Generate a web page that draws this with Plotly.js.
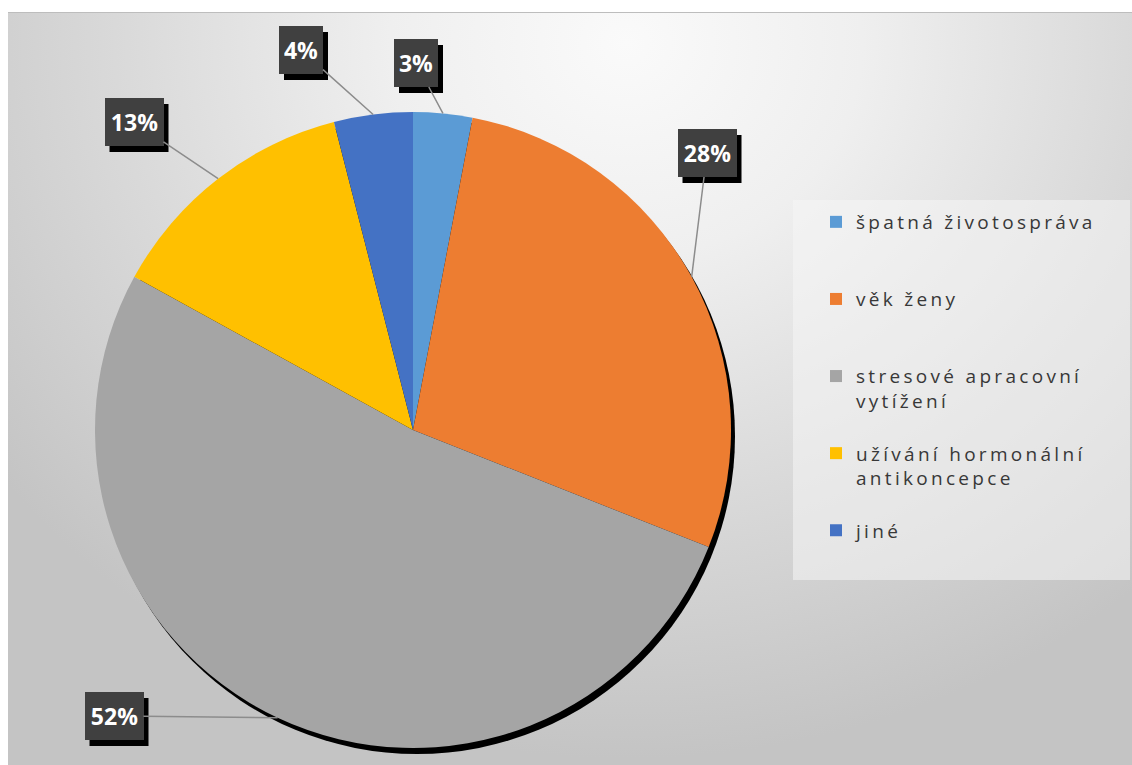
<!DOCTYPE html>
<html>
<head>
<meta charset="utf-8">
<script src="https://cdn.plot.ly/plotly-3.0.1.min.js"></script>
<style>
  html, body { margin:0; padding:0; background:#ffffff; }
  #wrap { position:relative; width:1132px; height:765px; overflow:hidden; }
  #frame { position:absolute; left:8px; top:12px; width:1124px; height:753px;
    border-top:1px solid #bdbdbd;
    background: radial-gradient(ellipse 70% 95% at 55% 4%, #fafafa 0%, #efefef 30%, #d9d9d9 65%, #c4c4c4 100%); }
  #chart { position:absolute; left:0; top:0; width:1132px; height:765px; }
  #chart .legendtext { letter-spacing: 3.3px; }
  #chart .legend .scrollbox { clip-path: none !important; }
</style>
</head>
<body>
<div id="wrap">
  <div id="frame"></div>
  <div id="chart"></div>
</div>
<script>
// ---- data ----
const categories = ["špatná životospráva", "věk ženy", "stresové apracovní vytížení", "užívání hormonální antikoncepce", "jiné"];
const legendLabels = ["špatná životospráva<br> <br> ", "věk ženy<br> <br> ", "stresové apracovní<br>vytížení<br> ", "užívání hormonální<br>antikoncepce<br> ", "jiné"];
const values = [3, 28, 52, 13, 4];
const percentLabels = ["3%", "28%", "52%", "13%", "4%"];
const colors = ["#5B9BD5", "#ED7D31", "#A5A5A5", "#FFC000", "#4472C4"];

// ---- layout/style (pixels) ----
const W = 1132, H = 765;
const CX = 413, CY = 430, R = 318;
const SH_DX = 4, SH_DY = 6;
// label box centres (pixels) and box widths
const labelBox = [
  {cx: 416, cy: 63, w: 34},
  {cx: 707, cy: 153, w: 49},
  {cx: 114, cy: 716, w: 49},
  {cx: 134, cy: 122, w: 49},
  {cx: 301, cy: 50, w: 34}
];
const BOX_H = 38, PAD = 5;

const domainMain = {x: [(CX - R) / W, (CX + R) / W], y: [1 - (CY + R) / H, 1 - (CY - R) / H]};
const domainShadow = {x: [(CX - R + SH_DX) / W, (CX + R + SH_DX) / W], y: [1 - (CY + R + SH_DY) / H, 1 - (CY - R + SH_DY) / H]};

const shadow = {
  type: 'pie', values: [1], labels: ['shadow'], marker: {colors: ['#000000'], line: {width: 0}},
  domain: domainShadow, textinfo: 'none', hoverinfo: 'skip', showlegend: false, sort: false
};
const pie = {
  type: 'pie', values: values, labels: legendLabels, customdata: categories,
  marker: {colors: colors, line: {width: 0}},
  domain: domainMain, sort: false, direction: 'clockwise', rotation: 0,
  textinfo: 'none', hovertemplate: '%{customdata}: %{percent}<extra></extra>'
};

// label annotations computed from slice geometry
const total = values.reduce((a, b) => a + b, 0);
const annotations = [];
const shapes = [{
  type: 'rect', xref: 'paper', yref: 'paper', layer: 'below',
  x0: 793 / W, x1: 1130 / W, y0: 1 - 580 / H, y1: 1 - 200 / H,
  fillcolor: 'rgba(245,245,245,0.55)', line: {width: 0}
}];
let cum = 0;
values.forEach((v, i) => {
  const mid = (cum + v / 2) / total * 2 * Math.PI;
  cum += v;
  const px = CX + R * Math.sin(mid);
  const py = CY - R * Math.cos(mid);
  const b = labelBox[i];
  const bw = b.w + 2 * PAD, bh = BOX_H + 2 * PAD;
  // drop shadow of the label box
  shapes.push({
    type: 'rect', xref: 'paper', yref: 'paper', layer: 'above',
    x0: (b.cx - bw / 2 + 5) / W, x1: (b.cx + bw / 2 + 5) / W,
    y0: 1 - (b.cy + bh / 2 + 6) / H, y1: 1 - (b.cy - bh / 2 + 6) / H,
    fillcolor: '#000000', line: {width: 0}
  });
  annotations.push({
    xref: 'paper', yref: 'paper', x: px / W, y: 1 - py / H,
    ax: b.cx - px, ay: b.cy - py, axref: 'pixel', ayref: 'pixel',
    text: percentLabels[i], width: b.w, height: BOX_H, borderpad: PAD, borderwidth: 0,
    bgcolor: '#404040',
    font: {family: 'Open Sans, DejaVu Sans, sans-serif', size: 23, color: '#ffffff', weight: 'bold'},
    showarrow: true, arrowhead: 0, standoff: 0, arrowcolor: '#8c8c8c', arrowwidth: 1.5
  });
});

const layout = {
  width: W, height: H,
  margin: {l: 0, r: 0, t: 0, b: 0},
  paper_bgcolor: 'rgba(0,0,0,0)', plot_bgcolor: 'rgba(0,0,0,0)',
  showlegend: true,
  legend: {
    x: 816 / W, xanchor: 'left', y: 1 - 203 / H, yanchor: 'top',
    bgcolor: 'rgba(0,0,0,0)', borderwidth: 0, valign: 'top',
    font: {family: 'Open Sans, sans-serif', size: 19, color: '#383838'},
    itemclick: false, itemdoubleclick: false
  },
  shapes: shapes,
  annotations: annotations
};

Plotly.newPlot('chart', [shadow, pie], layout, {displayModeBar: false});
</script>
</body>
</html>
